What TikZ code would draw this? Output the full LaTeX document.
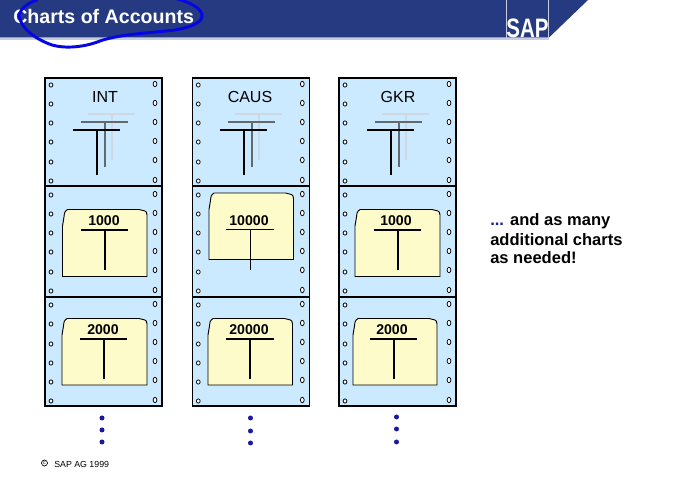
\documentclass[tikz,border=0pt]{standalone}
\usepackage{fontspec}
\usepackage{graphicx}
\setmainfont{Liberation Sans}
\definecolor{hdr}{HTML}{263A82}
\definecolor{shad}{HTML}{C8CCE0}
\definecolor{pan}{HTML}{CBE9FF}
\definecolor{fold}{HTML}{FEFBCB}
\definecolor{inkblue}{HTML}{0505E6}
\definecolor{dotblue}{HTML}{1A1A9C}
\definecolor{tgrey}{HTML}{5F6A72}
\definecolor{tlight}{HTML}{CFD8E0}
\newcommand{\px}{0.75pt}
\tikzset{
  panel/.style={draw=black,line width=0.8pt,fill=pan},
  folder/.style={draw=black,line width=0.7pt,fill=fold},
  tbar/.style={line width=1.5pt,black},
  tgreybar/.style={line width=1.5pt,tgrey},
  tlightbar/.style={line width=1.5pt,tlight},
  tthin/.style={line width=0.75pt,black},
  hole/.style={draw=black,line width=0.55pt,fill=white},
  caption/.style={font=\fontsize{12.4}{15}\selectfont\bfseries,text=black,inner sep=0pt},
  num/.style={font=\fontsize{10.6}{12}\selectfont\bfseries,text=black,inner sep=0pt},
  head/.style={font=\fontsize{12}{14}\selectfont,text=black,inner sep=0pt},
  bluedot/.style={fill=dotblue,draw=none},
}
\newcommand{\tee}[5]{% style, x1, x2, y, stem end : stem x is the middle
  \draw[#1] (#2,#4) -- (#3,#4);
  \draw[#1] ({(#2+#3)/2},#4) -- ({(#2+#3)/2},#5);}
\newcommand{\sheet}[1]{% left edge of a form
  \pgfmathsetmacro{\xr}{#1+117}
  \foreach \ya/\yb in {78/186.5,186.5/296.7,296.7/406}{
    \draw[panel] (#1,\ya) rectangle (\xr,\yb);
  }
  \draw[black,line width=1.5pt] (#1,186.5) -- (\xr,186.5);
  \draw[black,line width=1.5pt] (#1,296.7) -- (\xr,296.7);
  \foreach \y in {85,104,123,142,162,181,195,214,233,252,272,291,305,324,344,363,382,401}{
    \draw[hole] (#1+6,\y) ellipse (1.9 and 2.1);
  }
  \foreach \y in {84,103,122,141,160,180,194,213,232,251,270,290,304,323,342,361,380,400}{
    \draw[hole] (#1+110,\y) ellipse (1.9 and 2.7);
  }
}
\newcommand{\folder}[4]{% x1,x2,y1,y2
  \draw[folder] (#1,#4) -- (#1,#3+17) -- (#1+1.5,#3+8) .. controls (#1+2,#3+3) .. (#1+5,#3+0.5)
    -- (#2-8,#3+0.5) -- (#2-2,#3+2) .. controls (#2-0.5,#3+3) .. (#2,#3+6) -- (#2,#4) -- cycle;
}
\begin{document}
\begin{tikzpicture}[x=\px,y=-\px]
\useasboundingbox (0,0) rectangle (683,499);
\fill[white] (0,0) rectangle (683,499);
% header band
\fill[shad] (0,37) rectangle (549,40);
\fill[hdr] (0,0) -- (588,0) -- (549,37.5) -- (0,37.5) -- cycle;
\draw[shad,line width=0.5pt] (506.5,0) -- (506.5,38);
\draw[shad,line width=0.5pt] (548.5,0) -- (548.5,38);
\node[text=white,inner sep=0pt,font=\fontsize{20}{20}\selectfont\bfseries] (sap) at (527.5,28.5) {\scalebox{0.77}[1]{SAP}};
\node[text=white,anchor=west,inner sep=0pt,font=\fontsize{14.7}{15}\selectfont\bfseries] (title) at (13,16) {Charts of Accounts};
% hand-drawn ring
\draw[inkblue,line width=2.2pt,line cap=round,line join=round]
  (37,0) .. controls (28,3) and (21,8) .. (19,15)
  .. controls (20,26) and (32,38) .. (52,45)
  .. controls (66,49) and (85,47) .. (100,41)
  .. controls (120,34) and (150,33) .. (175,30)
  .. controls (192,27) and (203,22) .. (202,15)
  .. controls (201,8) and (190,2) .. (174,-2);
% forms
\sheet{45}\sheet{192.3}\sheet{339}
% top panels
\foreach \d in {0,147,294}{
  \pgfmathsetmacro{\a}{73+\d}\pgfmathsetmacro{\b}{120+\d}
  \tee{tlightbar}{\a+15}{\b+15}{114}{160}
  \tee{tgreybar}{\a+8}{\b+8}{122}{167}
  \tee{tbar}{\a}{\b}{130}{175}
}
\node[head] (int) at (105,97) {INT};
\node[head] (caus) at (250,97) {CAUS};
\node[head] (gkr) at (398,97) {GKR};
% folders
\folder{62.5}{147}{209}{276.5}
\folder{209}{293.5}{192.5}{259.5}
\folder{355}{440}{209}{276.5}
\folder{62}{147}{318}{385}
\folder{208}{292.5}{318}{385}
\folder{353}{437}{318}{385}
\node[num] (a1) at (104,221) {1000};
\node[num] (a2) at (249,221) {10000};
\node[num] (a3) at (396,221) {1000};
\node[num] (b1) at (103,330) {2000};
\node[num] (b2) at (249,330) {20000};
\node[num] (b3) at (392,330) {2000};
\tee{tbar}{81}{128}{230}{270.5}
\tee{tthin}{226}{274}{230}{270.5}
\tee{tbar}{374}{421}{230}{270.5}
\tee{tbar}{80}{127}{339}{379}
\draw[line width=1.5pt] (226,339) -- (274,339);
\draw[line width=1.1pt] (250,339) -- (250,379);
\tee{tbar}{370}{417}{339}{379}
% continuation dots
\foreach \x/\ya/\yb/\yc in {102/418/430/442,250.5/418/431/443,396.5/417/429/442}{
  \fill[bluedot] (\x,\ya) circle (2.5);
  \fill[bluedot] (\x,\yb) circle (2.5);
  \fill[bluedot] (\x,\yc) circle (2.5);
}
% note
\node[caption,anchor=west] (n1) at (490,221) {\textcolor{dotblue}{...} and as many};
\node[caption,anchor=west] (n2) at (490,239.5) {additional charts};
\node[caption,anchor=west] (n3) at (490,258) {as needed!};
% copyright
\draw[black,line width=0.5pt] (44.5,463) circle (3);
\node[text=black,inner sep=0pt,anchor=west,font=\fontsize{6.6}{7}\selectfont] (copy) at (54,464) {SAP AG 1999};
\node[text=black,inner sep=0pt,font=\fontsize{4}{4}\selectfont] (c) at (44.5,463) {c};
\end{tikzpicture}
\end{document}
